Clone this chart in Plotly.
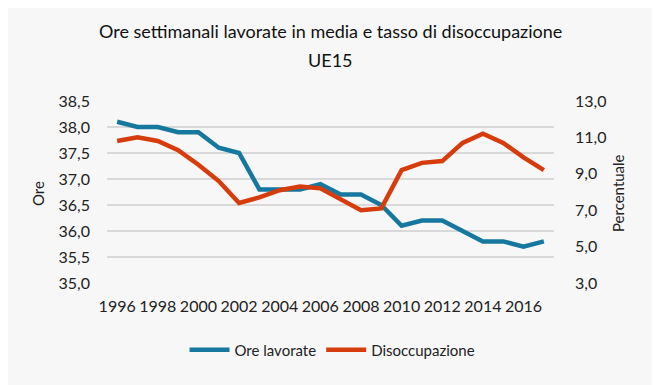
import plotly.graph_objects as go

years = list(range(1996, 2018))
ore_lavorate = [38.1, 38.0, 38.0, 37.9, 37.9, 37.6, 37.5, 36.8, 36.8, 36.8, 36.9,
                36.7, 36.7, 36.5, 36.1, 36.2, 36.2, 36.0, 35.8, 35.8, 35.7, 35.8]
disoccupazione = [10.8, 11.0, 10.8, 10.3, 9.5, 8.6, 7.4, 7.7, 8.1, 8.3, 8.2,
                  7.6, 7.0, 7.1, 9.2, 9.6, 9.7, 10.7, 11.2, 10.7, 9.9, 9.2]
left_ticks = [35.0, 35.5, 36.0, 36.5, 37.0, 37.5, 38.0, 38.5]
right_ticks = [3, 5, 7, 9, 11, 13]
x_ticks = list(range(1996, 2017, 2))
title_lines = ["Ore settimanali lavorate in media e tasso di disoccupazione", "UE15"]

FONT = "Lato"
BLUE = "#17789f"
RED = "#d63c0c"
BG = "#f7f7f7"
TXT = "#222222"

fig = go.Figure()
fig.add_trace(go.Scatter(x=years, y=ore_lavorate, name="Ore lavorate", mode="lines",
                         line=dict(color=BLUE, width=4.5), yaxis="y"))
fig.add_trace(go.Scatter(x=years, y=disoccupazione, name="Disoccupazione", mode="lines",
                         line=dict(color=RED, width=4.5), yaxis="y2"))

fig.update_layout(
    width=660, height=385,
    paper_bgcolor=BG, plot_bgcolor=BG,
    separators=",.",
    margin=dict(l=99, r=114, t=93, b=110, autoexpand=False),
    font=dict(family=FONT, size=16, color=TXT),
    showlegend=True,
    legend=dict(orientation="h", x=0.5045, xanchor="center", y=-0.368, yanchor="middle",
                font=dict(family=FONT, size=15, color=TXT), bgcolor="rgba(0,0,0,0)",
                itemwidth=40, tracegroupgap=0),
    xaxis=dict(range=[1995.5, 2017.5], tickmode="array", tickvals=x_ticks,
               showgrid=False, zeroline=False, showline=False, ticks="",
               ticklabelstandoff=12, automargin=False),
    yaxis=dict(range=[35.0, 38.5], tickmode="array", tickvals=left_ticks,
               tickformat=".1f", showgrid=True, gridcolor="#d9d9d9", gridwidth=1.5,
               zeroline=False, showline=False, ticks="", ticklabelstandoff=16,
               automargin=False),
    yaxis2=dict(range=[3, 13], tickmode="array", tickvals=right_ticks, tickformat=".1f",
                overlaying="y", side="right", showgrid=False, zeroline=False,
                showline=False, ticks="", ticklabelstandoff=20, automargin=False),
    annotations=[
        dict(text=title_lines[0], xref="paper", yref="paper", x=0.4989, y=1.3846,
             xanchor="center", yanchor="middle", showarrow=False,
             font=dict(family=FONT, size=18, color="#111111")),
        dict(text=title_lines[1], xref="paper", yref="paper", x=0.4989, y=1.2253,
             xanchor="center", yanchor="middle", showarrow=False,
             font=dict(family=FONT, size=18, color="#111111")),
        dict(text="Ore", xref="paper", yref="paper", x=-0.1544, y=0.4945,
             xanchor="center", yanchor="middle", textangle=-90, showarrow=False,
             font=dict(family=FONT, size=15, color=TXT)),
        dict(text="Percentuale", xref="paper", yref="paper", x=1.1432, y=0.4945,
             xanchor="center", yanchor="middle", textangle=-90, showarrow=False,
             font=dict(family=FONT, size=15, color=TXT)),
    ],
)

fig.write_html("out.html")
